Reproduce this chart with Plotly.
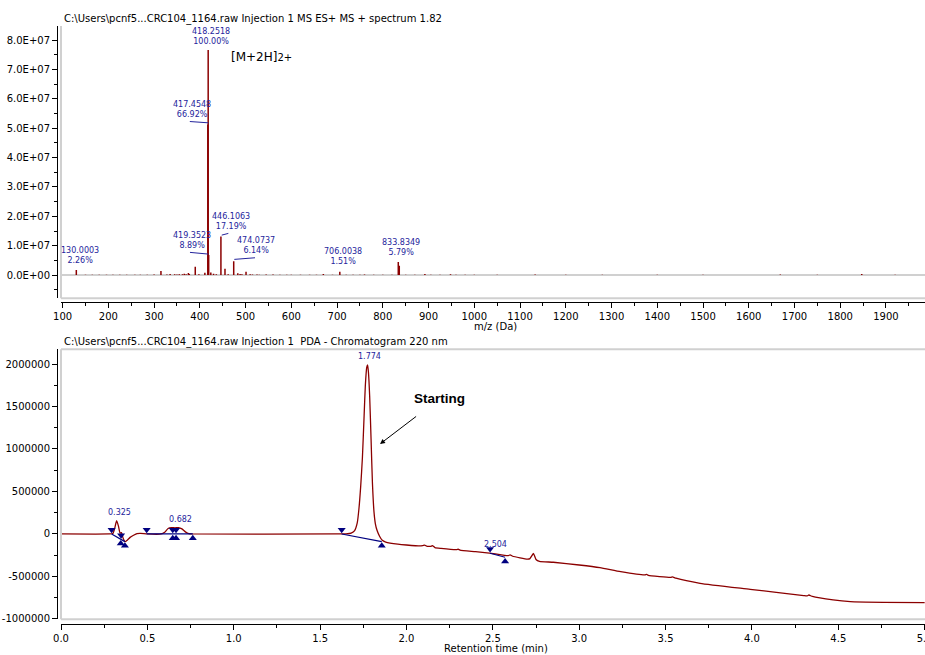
import plotly.graph_objects as go

# ---------------- Mass spectrum (top) ----------------
BASE_PEAK = 7.66e7
label_mz = [130.0003, 417.4548, 418.2518, 419.3523, 446.1063, 474.0737, 706.0038, 833.8349]
label_pct = [2.26, 66.92, 100.00, 8.89, 17.19, 6.14, 1.51, 5.79]

minor_mz = [150, 165, 180, 196, 210, 225, 240, 258, 270, 285, 300, 315, 328, 335, 345, 350,
            355, 362, 366, 370, 375, 377, 390, 398, 411, 424, 430, 436, 455, 462, 483, 488,
            492, 501, 510, 515, 525, 530, 545, 560, 575, 590, 600, 620, 640, 655, 670, 690,
            720, 735, 750, 760, 780, 800, 820, 836, 850, 870, 892, 905, 925, 948, 960, 980,
            1000, 1050, 1133, 1200, 1280, 1400, 1500, 1669, 1750, 1847, 1920]
minor_int = [0.15e6, 0.1e6, 0.12e6, 0.1e6, 0.15e6, 0.1e6, 0.12e6, 0.1e6, 0.15e6, 0.1e6, 0.2e6,
             1.4e6, 0.2e6, 0.4e6, 0.3e6, 0.2e6, 0.3e6, 0.25e6, 0.5e6, 0.3e6, 0.7e6, 0.4e6,
             2.8e6, 0.3e6, 0.8e6, 0.9e6, 0.5e6, 0.3e6, 2.2e6, 0.3e6, 0.6e6, 0.4e6, 0.3e6,
             1.1e6, 0.3e6, 0.2e6, 0.2e6, 0.15e6, 0.2e6, 0.2e6, 0.15e6, 0.15e6, 0.1e6, 0.15e6,
             0.1e6, 0.15e6, 0.35e6, 0.15e6, 0.1e6, 0.15e6, 0.1e6, 0.2e6, 0.1e6, 0.15e6, 0.1e6,
             3.2e6, 0.15e6, 0.1e6, 0.35e6, 0.1e6, 0.15e6, 0.3e6, 0.1e6, 0.1e6, 0.1e6, 0.1e6,
             0.2e6, 0.1e6, 0.1e6, 0.1e6, 0.1e6, 0.2e6, 0.1e6, 0.35e6, 0.1e6]

ms_x_ticks = list(range(100, 2000, 100))
ms_y_ticks = [0, 1e7, 2e7, 3e7, 4e7, 5e7, 6e7, 7e7, 8e7]

# ---------------- Chromatogram (bottom) ----------------
rt = [0.00, 0.28, 0.30, 0.31, 0.322, 0.333, 0.342, 0.350, 0.358, 0.370, 0.385, 0.40, 0.42,
      0.44, 0.46, 0.50, 0.58, 0.60, 0.62, 0.64, 0.66, 0.68, 0.70, 0.72, 0.74, 0.76, 1.60,
      1.65, 1.68, 1.70, 1.715, 1.725, 1.735, 1.745, 1.755, 1.762, 1.770, 1.775, 1.780,
      1.787, 1.795, 1.803, 1.812, 1.820, 1.830, 1.845, 1.860, 1.88, 1.95, 2.00, 2.08,
      2.095, 2.105, 2.12, 2.14, 2.15, 2.165, 2.20, 2.29, 2.30, 2.31, 2.40, 2.48, 2.55,
      2.59, 2.60, 2.615, 2.70, 2.715, 2.735, 2.75, 2.77, 2.85, 3.00, 3.12, 3.24, 3.38,
      3.39, 3.40, 3.53, 3.54, 3.56, 3.70, 3.99, 4.30, 4.32, 4.33, 4.35, 4.47, 4.57, 4.76,
      5.00]
signal = [0, 0, 5e3, 60e3, 156e3, 90e3, 10e3, 15e3, -40e3, -90e3, -70e3, -40e3, -15e3,
          5e3, 8e3, 0, 0, 20e3, 65e3, 75e3, 72e3, 75e3, 60e3, 25e3, 3e3, 0, 0,
          2e3, 10e3, 40e3, 130e3, 300e3, 560e3, 900e3, 1.40e6, 1.75e6, 1.96e6, 1.99e6, 1.90e6,
          1.62e6, 1.12e6, 600e3, 260e3, 120e3, 40e3, -30e3, -75e3, -95e3, -120e3, -130e3, -141e3,
          -136e3, -132e3, -145e3, -145e3, -138e3, -160e3, -170e3, -185e3, -180e3, -190e3, -208e3,
          -225e3, -245e3, -255e3, -245e3, -262e3, -295e3, -290e3, -230e3, -300e3, -322e3, -333e3,
          -365e3, -396e3, -444e3, -482e3, -475e3, -488e3, -510e3, -505e3, -520e3, -580e3, -651e3,
          -725e3, -728e3, -718e3, -735e3, -776e3, -796e3, -804e3, -808e3]

# integration baselines (start, end)
base_t = [(0.293, 0.370), (0.496, 0.763), (1.625, 1.857), (2.484, 2.571)]
base_v = [(0, -90e3), (0, 0), (0, -90e3), (-227e3, -274e3)]
# peak start/end markers
down_t = [0.293, 0.348, 0.496, 0.647, 0.666, 1.625, 2.484]
down_v = [0, -64e3, 0, 0, 0, 0, -227e3]
up_t = [0.346, 0.370, 0.647, 0.666, 0.763, 1.857, 2.571]
up_v = [-62e3, -90e3, 0, 0, 0, -90e3, -274e3]
peak_rt = [0.325, 0.682, 1.774, 2.504]
peak_lab_v = [255e3, 173e3, 2.086e6, -129e3]

chrom_x_ticks = [0.0, 0.5, 1.0, 1.5, 2.0, 2.5, 3.0, 3.5, 4.0, 4.5, 5.0]
chrom_y_ticks = [-1000000, -500000, 0, 500000, 1000000, 1500000, 2000000]

# ---------------- style ----------------
RED = "#8b0000"
BLUE = "#24249c"
NAVY = "#000080"
GRAY = "#d0d0d0"
FONT = "DejaVu Sans"

fig = go.Figure()

# spectrum sticks
all_mz = minor_mz + label_mz
all_int = minor_int + [p / 100 * BASE_PEAK for p in label_pct]
sx, sy = [], []
for m, i in zip(all_mz, all_int):
    sx += [m, m, None]
    sy += [0, i, None]
fig.add_trace(go.Scatter(x=sx, y=sy, mode="lines", line=dict(color=RED, width=1.5),
                         hoverinfo="skip", showlegend=False, xaxis="x", yaxis="y"))

# chromatogram
fig.add_trace(go.Scatter(x=rt, y=signal, mode="lines", line=dict(color=RED, width=1.3, shape="spline", smoothing=0.5),
                         showlegend=False, xaxis="x2", yaxis="y2"))
bx, by = [], []
for (t0, t1), (v0, v1) in zip(base_t, base_v):
    bx += [t0, t1, None]
    by += [v0, v1, None]
fig.add_trace(go.Scatter(x=bx, y=by, mode="lines", line=dict(color=NAVY, width=1.2),
                         showlegend=False, hoverinfo="skip", xaxis="x2", yaxis="y2"))
MOFF = 50e3
fig.add_trace(go.Scatter(x=down_t, y=[v + MOFF for v in down_v], mode="markers",
                         marker=dict(symbol="triangle-down", size=7, color=NAVY),
                         showlegend=False, hoverinfo="skip", xaxis="x2", yaxis="y2"))
fig.add_trace(go.Scatter(x=up_t, y=[v - MOFF for v in up_v], mode="markers",
                         marker=dict(symbol="triangle-up", size=7, color=NAVY),
                         showlegend=False, hoverinfo="skip", xaxis="x2", yaxis="y2"))

annotations = []
shapes = []

# spectrum labels
lab_shift = {130.0003: (4, 3), 417.4548: (-16, 4), 418.2518: (3, 2), 419.3523: (-17, 3),
             446.1063: (10, 3), 474.0737: (22, 4), 706.0038: (3, 4), 833.8349: (3, 3)}
for m, p in zip(label_mz, label_pct):
    xs, ys = lab_shift[m]
    annotations.append(dict(x=m, y=p / 100 * BASE_PEAK, xref="x", yref="y",
                            text=f"{m:.4f}<br>{p:.2f}%", showarrow=False,
                            xanchor="center", yanchor="bottom", xshift=xs, yshift=ys,
                            font=dict(family=FONT, size=8, color=BLUE)))
leaders = {417.4548: (-18, 0.5, 3, 1.7), 419.3523: (-18.7, -0.4, 2.7, 1.0),
           446.1063: (0.8, 7.4, 1.3, 3.0), 474.0737: (0.6, 21.3, 1.9, 3.5)}
for m, p in zip(label_mz, label_pct):
    if m in leaders:
        x0, x1, y0, y1 = leaders[m]
        shapes.append(dict(type="line", xref="x", yref="y", xsizemode="pixel", ysizemode="pixel",
                           xanchor=m, yanchor=p / 100 * BASE_PEAK, x0=x0, x1=x1, y0=y0, y1=y1,
                           line=dict(color=BLUE, width=1)))

annotations.append(dict(x=464.5, y=7.43e7, xref="x", yref="y", xanchor="left", yanchor="middle",
                        text="[M+2H]<span style='font-size:10px'>2+</span>", showarrow=False,
                        font=dict(family=FONT, size=12, color="black")))

# chromatogram labels
for t, v in zip(peak_rt, peak_lab_v):
    annotations.append(dict(x=t, y=v, xref="x2", yref="y2", text=f"{t:.3f}", showarrow=False,
                            xanchor="center", yanchor="middle", xshift=2,
                            font=dict(family=FONT, size=8, color=BLUE)))

annotations.append(dict(x=1.847, y=1.059e6, xref="x2", yref="y2", ax=59, ay=-45,
                        text="<b>Starting</b>", showarrow=True, arrowhead=2, arrowsize=1,
                        arrowwidth=1, arrowcolor="black", startstandoff=14,
                        font=dict(family="Liberation Sans", size=13.5, color="black")))

# titles
W, H, L = 925, 655, 57
def px(xp):
    return (xp - L) / (W - L)
def py(yp):
    return (H - yp) / H

annotations.append(dict(x=px(62), y=py(19), xref="paper", yref="paper", xanchor="left", yanchor="middle",
                        text="C:\\Users\\pcnf5...CRC104_1164.raw Injection 1 MS ES+ MS + spectrum 1.82",
                        showarrow=False, font=dict(family=FONT, size=10, color="black")))
annotations.append(dict(x=px(62), y=py(342), xref="paper", yref="paper", xanchor="left", yanchor="middle",
                        text="C:\\Users\\pcnf5...CRC104_1164.raw Injection 1  PDA - Chromatogram 220 nm",
                        showarrow=False, font=dict(family=FONT, size=10, color="black")))
annotations.append(dict(x=px(495), y=py(326), xref="paper", yref="paper", xanchor="center", yanchor="middle",
                        text="m/z (Da)", showarrow=False, font=dict(family=FONT, size=10, color="black")))
annotations.append(dict(x=px(496), y=py(648), xref="paper", yref="paper", xanchor="center", yanchor="middle",
                        text="Retention time (min)", showarrow=False, font=dict(family=FONT, size=10, color="black")))

# gray frame lines
for ax_x, ax_y, top in (("x", "y", False), ("x2", "y2", True)):
    shapes.append(dict(type="line", xref=f"{ax_x} domain", yref=f"{ax_y} domain", x0=0, x1=0, y0=0, y1=1,
                       line=dict(color=GRAY, width=2)))
    shapes.append(dict(type="line", xref=f"{ax_x} domain", yref=f"{ax_y} domain", x0=0, x1=1, y0=0, y1=0,
                       line=dict(color=GRAY, width=2)))
    if top:
        shapes.append(dict(type="line", xref=f"{ax_x} domain", yref=f"{ax_y} domain", x0=0, x1=1, y0=1, y1=1,
                           line=dict(color=GRAY, width=2)))

xdom = [px(61), 1]
axis_common = dict(showline=True, linecolor="black", linewidth=1, ticks="outside", ticklen=5,
                   tickcolor="black", showgrid=False, automargin=False, ticklabeloverflow="allow",
                   tickfont=dict(family=FONT, size=10, color="black"))

fig.update_layout(
    width=W, height=H, margin=dict(l=L, r=0, t=0, b=0, autoexpand=False),
    paper_bgcolor="white", plot_bgcolor="white", showlegend=False,
    font=dict(family=FONT),
    xaxis=dict(domain=xdom, anchor="free", position=py(301.7), range=[96.5, 1985.3],
               tickvals=ms_x_ticks, ticktext=[str(v) for v in ms_x_ticks], zeroline=False,
               minor=dict(ticks="outside", ticklen=3, dtick=50, tick0=0, tickcolor="black"), **axis_common),
    yaxis=dict(domain=[py(298.3), py(26)], anchor="free", position=0, range=[-0.79e7, 8.48e7],
               tickvals=ms_y_ticks, ticktext=["{:.1E}".format(v) for v in ms_y_ticks],
               zeroline=True, zerolinecolor=GRAY, zerolinewidth=1.5,
               minor=dict(ticks="outside", ticklen=3, dtick=5e6, tick0=0, tickcolor="black"), **axis_common),
    xaxis2=dict(domain=xdom, anchor="free", position=py(624), range=[0, 5.002],
                tickvals=chrom_x_ticks, ticktext=[f"{v:.1f}" for v in chrom_x_ticks], zeroline=False,
                minor=dict(ticks="outside", ticklen=3, dtick=0.25, tick0=0, tickcolor="black"), **axis_common),
    yaxis2=dict(domain=[py(619.3), py(349.3)], anchor="free", position=0, range=[-1.004e6, 2.173e6],
                tickvals=chrom_y_ticks, ticktext=[str(v) for v in chrom_y_ticks], zeroline=False,
                minor=dict(ticks="outside", ticklen=3, dtick=250000, tick0=0, tickcolor="black"), **axis_common),
    annotations=annotations,
    shapes=shapes,
)

fig.write_html("out.html", config={"displayModeBar": False},
               post_script="document.body.style.margin='0';document.body.style.overflow='hidden';")
